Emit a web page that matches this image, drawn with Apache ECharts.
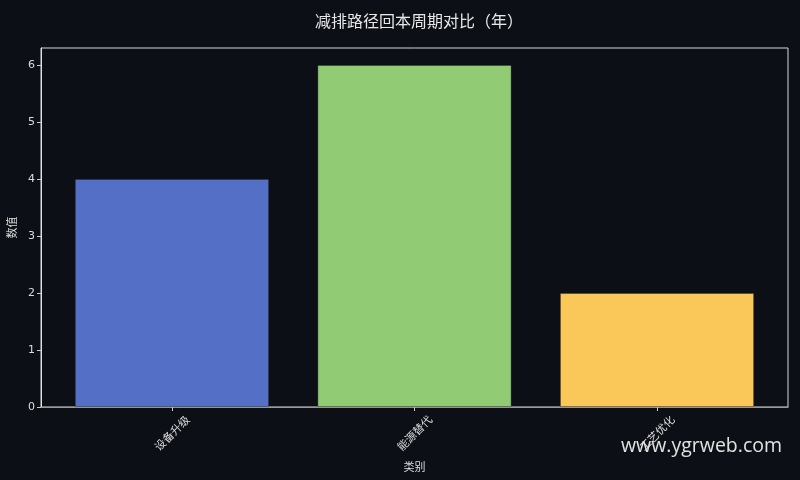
<!DOCTYPE html>
<html>
<head>
<meta charset="utf-8">
<script src="https://cdn.jsdelivr.net/npm/echarts@6/dist/echarts.min.js"></script>
<style>html,body{margin:0;padding:0;background:#0c0f16;}#c{width:800px;height:480px;}</style>
</head>
<body>
<div id="c"></div>
<script>
var categories = ['设备升级', '能源替代', '工艺优化'];
var values = [4, 6, 2];
var colors = ['#5470c6', '#91cc75', '#fac858'];
var yTicks = [0, 1, 2, 3, 4, 5, 6];
var titleText = '减排路径回本周期对比（年）';
var xName = '类别';
var yName = '数值';
var watermark = 'www.ygrweb.com';

var positions = categories.map(function (c, i) { return i; });
var font = 'DejaVu Sans, Noto Sans CJK SC, sans-serif';
var chart = echarts.init(document.getElementById('c'), null, { renderer: 'canvas' });
chart.setOption({
  backgroundColor: '#0c0f16',
  animation: false,
  title: {
    text: titleText,
    left: 414, top: 8, textAlign: 'center',
    textStyle: { color: '#e8e8e8', fontSize: 16, fontWeight: 'normal', fontFamily: 'Noto Sans CJK SC, sans-serif' }
  },
  grid: { left: 41, right: 12, top: 48, bottom: 73, outerBoundsMode: 'none', containLabel: false, show: true, borderColor: '#d8d8d8', borderWidth: 1, backgroundColor: 'transparent' },
  xAxis: {
    type: 'value', min: -0.54, max: 2.54,
    name: xName, nameLocation: 'middle', nameGap: 54,
    nameTextStyle: { color: '#dddddd', fontSize: 11, fontFamily: 'Noto Sans CJK SC, sans-serif' },
    axisLine: { show: true, onZero: false, lineStyle: { color: '#9a9a9a', width: 1.2 } },
    axisTick: { show: true, customValues: positions, length: 4, lineStyle: { color: '#cccccc' } },
    axisLabel: {
      customValues: positions, rotate: 45, align: 'center', verticalAlign: 'middle', margin: 26,
      color: '#dddddd', fontSize: 11, fontFamily: 'Noto Sans CJK SC, sans-serif',
      formatter: function (v) { return categories[Math.round(v)]; }
    },
    splitLine: { show: false }
  },
  yAxis: {
    type: 'value', min: 0, max: 6.3, interval: 1,
    name: yName, nameLocation: 'middle', nameGap: 21,
    nameTextStyle: { color: '#dddddd', fontSize: 11, fontFamily: 'Noto Sans CJK SC, sans-serif' },
    axisLine: { show: true, onZero: false, lineStyle: { color: '#e0e0e0', width: 1 } },
    axisTick: { show: true, customValues: yTicks, length: 4, lineStyle: { color: '#cccccc' } },
    axisLabel: { customValues: yTicks, color: '#dddddd', fontSize: 11, margin: 6, fontFamily: font },
    splitLine: { show: false }
  },
  series: [{
    type: 'bar',
    barWidth: 194,
    data: values.map(function (v, i) {
      return { value: [positions[i], v], itemStyle: { color: colors[i], borderColor: 'rgba(40,40,40,0.5)', borderWidth: 0.8 } };
    })
  }],
  graphic: [{
    type: 'text', left: 621, top: 436, z: 100,
    style: { text: watermark, fill: '#e2e2e2', fontSize: 19.5, fontFamily: 'Open Sans, DejaVu Sans, sans-serif' }
  }]
});
</script>
</body>
</html>
